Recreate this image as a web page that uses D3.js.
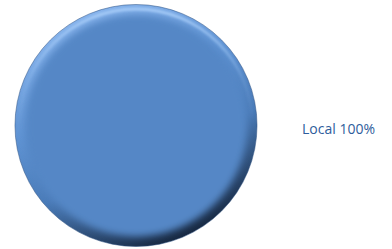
<!DOCTYPE html>
<html>
<head>
<meta charset="utf-8">
<script src="https://cdn.jsdelivr.net/npm/d3@7"></script>
<style>
  body { margin: 0; background: #fff; }
  svg { display: block; }
</style>
</head>
<body>
<svg id="svgContainer" width="392" height="249"></svg>
<script>
const categories = ["Local"];
const values = [100];
const percentLabels = ["100%"];

const svgContainer = d3.select("#svgContainer");
const cx = 136, cy = 125.5, radius = 121;

const defs = svgContainer.append("defs");

// rim gradient: light at top-left, dark at bottom-right
const rim = defs.append("linearGradient")
  .attr("id", "rim")
  .attr("x1", "0.3").attr("y1", "0")
  .attr("x2", "0.75").attr("y2", "1");
rim.append("stop").attr("offset", "0%").attr("stop-color", "#8ab6ee");
rim.append("stop").attr("offset", "35%").attr("stop-color", "#5f93d3");
rim.append("stop").attr("offset", "62%").attr("stop-color", "#4a7bb8");
rim.append("stop").attr("offset", "100%").attr("stop-color", "#0f1b2e");

// highlight band near the top
const hi = defs.append("linearGradient")
  .attr("id", "hi")
  .attr("x1", "0").attr("y1", "0")
  .attr("x2", "0").attr("y2", "1");
hi.append("stop").attr("offset", "0%").attr("stop-color", "#a8cdf8").attr("stop-opacity", 0.9);
hi.append("stop").attr("offset", "30%").attr("stop-color", "#a8cdf8").attr("stop-opacity", 0.15);
hi.append("stop").attr("offset", "50%").attr("stop-color", "#a8cdf8").attr("stop-opacity", 0);

const blur = defs.append("filter").attr("id", "soft")
  .attr("x", "-10%").attr("y", "-10%").attr("width", "120%").attr("height", "120%");
blur.append("feGaussianBlur").attr("stdDeviation", 3.5);

const blur2 = defs.append("filter").attr("id", "soft2")
  .attr("x", "-10%").attr("y", "-10%").attr("width", "120%").attr("height", "120%");
blur2.append("feGaussianBlur").attr("stdDeviation", 1.2);

const pie = d3.pie().sort(null).value(d => d);
const arcs = pie(values);

const outer = d3.arc().innerRadius(0).outerRadius(radius);
const inner = d3.arc().innerRadius(0).outerRadius(radius - 10);
const band = d3.arc().innerRadius(radius - 6).outerRadius(radius - 3);

const g = svgContainer.append("g").attr("transform", `translate(${cx},${cy})`);

g.selectAll("path.base")
  .data(arcs)
  .enter()
  .append("path")
  .attr("class", "base")
  .attr("d", outer)
  .attr("fill", "url(#rim)");

g.append("clipPath").attr("id", "clip")
  .append("circle").attr("r", radius);

g.selectAll("path.face")
  .data(arcs)
  .enter()
  .append("path")
  .attr("class", "face")
  .attr("d", inner)
  .attr("fill", "#5587c6")
  .attr("filter", "url(#soft)")
  .attr("clip-path", "url(#clip)");

g.selectAll("path.band")
  .data(arcs)
  .enter()
  .append("path")
  .attr("class", "band")
  .attr("d", band)
  .attr("fill", "url(#hi)")
  .attr("filter", "url(#soft2)")
  .attr("clip-path", "url(#clip)");

// thin darker outline on the edge
g.selectAll("path.edge")
  .data(arcs)
  .enter()
  .append("path")
  .attr("class", "edge")
  .attr("d", outer)
  .attr("fill", "none")
  .attr("stroke", "#2c4f80")
  .attr("stroke-opacity", 0.5)
  .attr("stroke-width", 1);

svgContainer.selectAll("text.label")
  .data(arcs)
  .enter()
  .append("text")
  .attr("class", "label")
  .attr("x", 302)
  .attr("y", 134)
  .attr("fill", "#2f5d9c")
  .style("font-family", "'Open Sans', sans-serif")
  .style("font-size", "14px")
  .text((d, i) => `${categories[i]} ${percentLabels[i]}`);
</script>
</body>
</html>
